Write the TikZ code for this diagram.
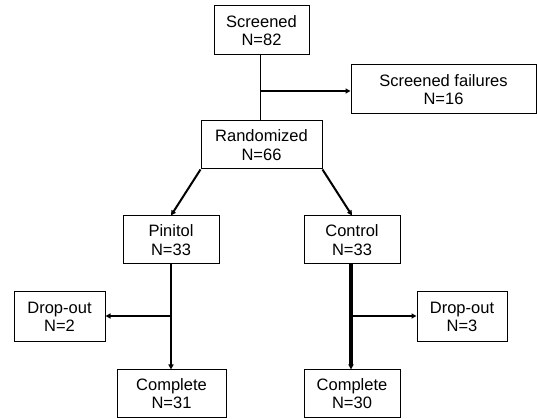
\documentclass[tikz,border=0pt]{standalone}
\usepackage{fontspec}
\setmainfont{Liberation Sans}
\usetikzlibrary{arrows.meta}
\begin{document}
\begin{tikzpicture}[x=1pt,y=-1pt,
  box/.style={draw=black,line width=1pt,fill=white,align=center,inner sep=0pt,
    font=\fontsize{16.5}{18.5}\selectfont},
  conn/.style={draw=black,line width=1.2pt},
  arr/.style={draw=black,line width=2pt,-{Triangle[length=5pt,width=5pt]}}]
\path[fill=white] (0,0) rectangle (538,419);
\useasboundingbox (0,0) rectangle (538,419);
\node[box,minimum width=95pt,minimum height=49pt] (s) at (261.5,30.5) {Screened\\N=82};
\node[box,minimum width=185pt,minimum height=49pt] (f) at (443.5,89.5) {Screened failures\\N=16};
\node[box,minimum width=121pt,minimum height=48pt] (r) at (261.5,145) {Randomized\\N=66};
\node[box,minimum width=96pt,minimum height=48pt] (p) at (171,240) {Pinitol\\N=33};
\node[box,minimum width=96pt,minimum height=48pt] (c) at (352,240) {Control\\N=33};
\node[box,minimum width=91pt,minimum height=50pt] (dl) at (59.5,317) {Drop-out\\N=2};
\node[box,minimum width=90pt,minimum height=50pt] (dr) at (462,317) {Drop-out\\N=3};
\node[box,minimum width=109pt,minimum height=47pt] (cl) at (171.5,393.5) {Complete\\N=31};
\node[box,minimum width=96pt,minimum height=47pt] (cr) at (352,393.5) {Complete\\N=30};
% top
\coordinate (s1) at (260.5,0);
\draw[conn] (s1 |- s.south) -- (s1 |- r.north);
\coordinate (sj) at (260.5,91);
\draw[arr] (sj) -- (sj -| f.west);
% randomized split
\draw[arr] (r.south west) -- (p.north);
\draw[arr] (r.south east) -- (c.north);
% pinitol branch
\coordinate (pl) at (171,0);
\draw[arr] (pl |- p.south) -- (pl |- cl.north);
\coordinate (pj) at (171,316);
\draw[arr] (pj) -- (pj -| dl.east);
% control branch
\coordinate (cc) at (351,0);
\draw[arr,line width=3.2pt] (cc |- c.south) -- (cc |- cr.north);
\coordinate (cj) at (351,316);
\draw[arr] (cj) -- (cj -| dr.west);
\end{tikzpicture}
\end{document}
